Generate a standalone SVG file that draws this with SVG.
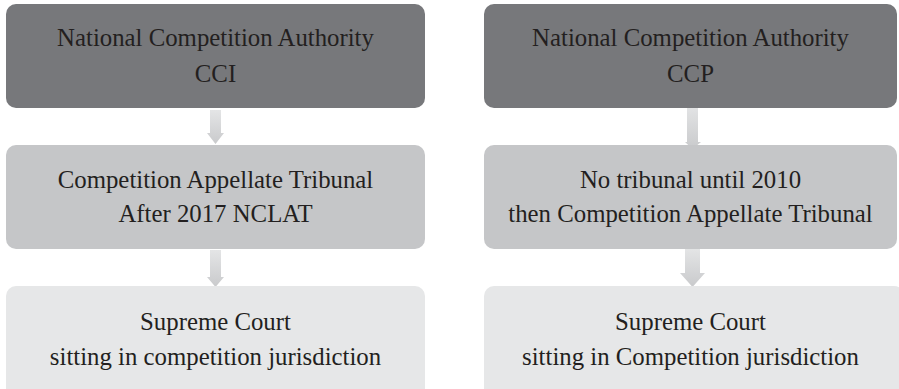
<svg xmlns="http://www.w3.org/2000/svg" width="899" height="389" viewBox="0 0 899 389">
<defs>
<linearGradient id="ag" x1="0" y1="0" x2="0" y2="1">
<stop offset="0" stop-color="#e4e5e6"/>
<stop offset="1" stop-color="#c9cacc"/>
</linearGradient>
<style>
.b1{fill:#77787b}
.b2{fill:#c5c6c8}
.b3{fill:#e6e7e8}
.ar{fill:url(#ag)}
</style>
</defs>
<rect width="899" height="389" fill="#ffffff"/>
<g id="connectors">
<path class="ar" d="M210 110 H221 V133 H224 L215.5 144 L207 133 H210 Z"/>
<path class="ar" d="M210 250 H221 V277 H224 L215.5 287 L207 277 H210 Z"/>
<path class="ar" d="M687 104 H698 V142 H701 L692.5 149 L685 142 H687 Z"/>
<path class="ar" d="M685 248 H700 V273 H705 L692.5 287 L680 273 H685 Z"/>
</g>
<g id="n1">
<rect class="b1" x="6" y="4" width="419" height="104" rx="10"/>
<text x="215.5" y="46" font-family="Liberation Serif, serif" font-size="24.8" fill="#231f20" text-anchor="middle">National Competition Authority</text>
<text x="215.5" y="82" font-family="Liberation Serif, serif" font-size="24.8" fill="#231f20" text-anchor="middle">CCI</text>
</g>
<g id="n2">
<rect class="b2" x="6" y="145" width="419" height="104" rx="10"/>
<text x="215.5" y="188" font-family="Liberation Serif, serif" font-size="24.8" fill="#231f20" text-anchor="middle">Competition Appellate Tribunal</text>
<text x="215.5" y="222" font-family="Liberation Serif, serif" font-size="24.8" fill="#231f20" text-anchor="middle">After 2017 NCLAT</text>
</g>
<g id="n3">
<rect class="b3" x="6" y="286" width="419" height="115" rx="10"/>
<text x="215.5" y="330" font-family="Liberation Serif, serif" font-size="24.8" fill="#231f20" text-anchor="middle">Supreme Court</text>
<text x="215.5" y="365" font-family="Liberation Serif, serif" font-size="24.8" fill="#231f20" text-anchor="middle">sitting in competition jurisdiction</text>
</g>
<g id="n4">
<rect class="b1" x="484" y="4" width="413" height="104" rx="10"/>
<text x="690.5" y="46" font-family="Liberation Serif, serif" font-size="24.8" fill="#231f20" text-anchor="middle">National Competition Authority</text>
<text x="690.5" y="82" font-family="Liberation Serif, serif" font-size="24.8" fill="#231f20" text-anchor="middle">CCP</text>
</g>
<g id="n5">
<rect class="b2" x="484" y="145" width="413" height="104" rx="10"/>
<text x="690.5" y="188" font-family="Liberation Serif, serif" font-size="24.8" fill="#231f20" text-anchor="middle">No tribunal until 2010</text>
<text x="690.5" y="222" font-family="Liberation Serif, serif" font-size="24.8" fill="#231f20" text-anchor="middle">then Competition Appellate Tribunal</text>
</g>
<g id="n6">
<rect class="b3" x="484" y="286" width="420" height="115" rx="10"/>
<text x="690.5" y="330" font-family="Liberation Serif, serif" font-size="24.8" fill="#231f20" text-anchor="middle">Supreme Court</text>
<text x="690.5" y="365" font-family="Liberation Serif, serif" font-size="24.8" fill="#231f20" text-anchor="middle">sitting in Competition jurisdiction</text>
</g>
</svg>
